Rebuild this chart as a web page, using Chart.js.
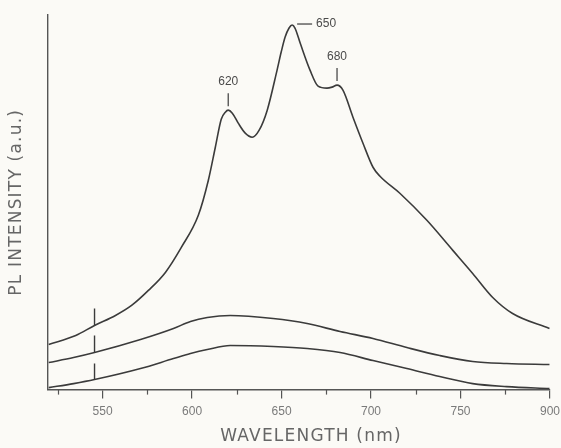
<!DOCTYPE html>
<html>
<head>
<meta charset="utf-8">
<script src="https://cdn.jsdelivr.net/npm/chart.js@4.4.1/dist/chart.umd.min.js"></script>
<style>
   html, body { margin: 0; padding: 0; background: #fbfaf6; }
   #wrap { width: 561px; height: 448px; position: relative; }
</style>
</head>
<body>
<div id="wrap"><canvas id="plChart" width="561" height="448"></canvas></div>
<script>
// Upper spectrum (sample)
const wavelengthTop = [519.9, 535.0, 545.5, 557.2, 566.2, 575.6, 585.1, 594.0, 603.5, 609.1, 613.0, 616.3, 618.6, 620.2,
   622.5, 625.8, 629.7, 633.6, 637.5, 642.0, 647.5, 649.8, 652.0, 654.2, 655.9, 657.5, 660.4, 665.9, 670.4, 675.4,
   678.2, 681.0, 684.3, 689.9, 695.5, 701.1, 705.0, 716.1, 731.2, 745.7, 756.8, 768.0, 779.1, 799.7];
const intensityTop = [45, 54, 64, 74, 84, 99, 117, 142, 174, 209, 242, 270, 277, 279,
   276, 266, 256, 252, 259, 279, 319, 337, 352, 361, 364, 361, 346, 319, 303, 301,
   302, 304, 299, 272, 246, 222, 213, 196, 169, 139, 116, 92, 76, 61];

// Middle and lower broad bands
const wavelengthBand = [519.9, 533.8, 545.5, 571.2, 589.6, 599.1, 608.5, 621.3, 645.3, 664.3, 682.7, 701.1, 720.0, 738.4, 756.8, 775.8, 799.7];
const intensityMiddle = [27, 32, 37, 50, 61, 68, 72, 74, 71, 66, 58, 51, 42, 34, 28, 26, 25];
const intensityBottom = [2, 6, 10, 21, 31, 36, 40, 44, 43, 41, 37, 29, 21, 13, 6, 3, 1];

// Lamp line spikes near 545 nm
const spikeWavelength = 545.5;
const spikeBase = [64, 37, 10];
const spikeTop = [81, 54, 26];

// Peak labels
const peakText = ['620', '650', '680'];
const peakWavelength = [620.2, 655.9, 681.0];
const peakLevel = [279, 364, 304];

// X axis
const tickValues = [550, 600, 650, 700, 750, 800];
const tickLabels = ['550', '600', '650', '700', '750', '900'];
const minorTickValues = [525, 575, 625, 675, 725, 775];

const xTitle = 'WAVELENGTH (nm)';
const yTitle = 'PL INTENSITY (a.u.)';

const ink = '#3b3b3b';

const toPoints = (xs, ys) => xs.map((x, i) => ({ x: x, y: ys[i] }));

const curveStyle = {
   showLine: true,
   borderColor: ink,
   borderWidth: 1.6,
   pointRadius: 0,
   cubicInterpolationMode: 'monotone',
   fill: false
};

const datasets = [
   { ...curveStyle, data: toPoints(wavelengthTop, intensityTop) },
   { ...curveStyle, data: toPoints(wavelengthBand, intensityMiddle) },
   { ...curveStyle, data: toPoints(wavelengthBand, intensityBottom) }
];
spikeBase.forEach((b, i) => {
   datasets.push({
      showLine: true, borderColor: ink, borderWidth: 1.4, pointRadius: 0, tension: 0,
      data: [{ x: spikeWavelength, y: b }, { x: spikeWavelength, y: spikeTop[i] }]
   });
});

// Minor ticks, axis titles (letter-spaced) and peak annotations
const extrasPlugin = {
   id: 'extras',
   afterDraw(chart) {
      const ctx = chart.ctx;
      const xs = chart.scales.x, ys = chart.scales.y;
      const area = chart.chartArea;
      ctx.save();
      ctx.strokeStyle = '#555';
      ctx.lineWidth = 1.2;
      minorTickValues.forEach(v => {
         const px = Math.round(xs.getPixelForValue(v)) + 0.5;
         ctx.beginPath();
         ctx.moveTo(px, area.bottom);
         ctx.lineTo(px, area.bottom + 5);
         ctx.stroke();
      });

      // axis titles
      ctx.fillStyle = '#666';
      ctx.font = '17px "DejaVu Sans", sans-serif';
      ctx.letterSpacing = '1.2px';
      ctx.textAlign = 'center';
      ctx.textBaseline = 'middle';
      ctx.fillText(xTitle, (area.left + area.right) / 2 + 12, 437);
      ctx.save();
      ctx.translate(17, (area.top + area.bottom) / 2);
      ctx.rotate(-Math.PI / 2);
      ctx.fillText(yTitle, 0, 0);
      ctx.restore();
      ctx.letterSpacing = '0px';

      ctx.font = '12px "Liberation Sans", Arial, sans-serif';
      ctx.fillStyle = '#4a4a4a';
      ctx.strokeStyle = ink;
      ctx.lineWidth = 1.2;
      peakText.forEach((t, i) => {
         const px = xs.getPixelForValue(peakWavelength[i]);
         const py = ys.getPixelForValue(peakLevel[i]);
         ctx.beginPath();
         if (i === 1) {
            // side label
            ctx.moveTo(px + 5, py - 1);
            ctx.lineTo(px + 20, py - 1);
            ctx.stroke();
            ctx.textAlign = 'left';
            ctx.textBaseline = 'middle';
            ctx.fillText(t, px + 24, py - 1);
         } else {
            ctx.moveTo(px, py - 4);
            ctx.lineTo(px, py - 17);
            ctx.stroke();
            ctx.textAlign = 'center';
            ctx.textBaseline = 'middle';
            ctx.fillText(t, px, py - 28);
         }
      });
      ctx.restore();
   }
};

new Chart(document.getElementById('plChart'), {
   type: 'scatter',
   data: { datasets: datasets },
   options: {
      responsive: false,
      animation: false,
      layout: { padding: { left: 48, right: 11, top: 15, bottom: 23 } },
      plugins: { legend: { display: false }, tooltip: { enabled: false } },
      scales: {
         x: {
            type: 'linear',
            min: 519.5,
            max: 800,
            afterBuildTicks: scale => { scale.ticks = tickValues.map(v => ({ value: v })); },
            afterFit: scale => { scale.paddingRight = 0; scale.paddingLeft = 0; },
            border: { color: '#555', width: 1.4 },
            grid: { drawOnChartArea: false, drawTicks: true, tickLength: 9, color: '#555', lineWidth: 1.2 },
            ticks: {
               color: '#7a7a7a',
               padding: 6,
               maxRotation: 0,
               autoSkip: false,
               font: { family: '"Liberation Sans", Arial, sans-serif', size: 12 },
               callback: (v, i) => tickLabels[i]
            }
         },
         y: {
            min: 0,
            max: 374,
            border: { color: '#555', width: 1.4 },
            grid: { drawOnChartArea: false, drawTicks: false },
            ticks: { display: false }
         }
      }
   },
   plugins: [extrasPlugin]
});
</script>
</body>
</html>
